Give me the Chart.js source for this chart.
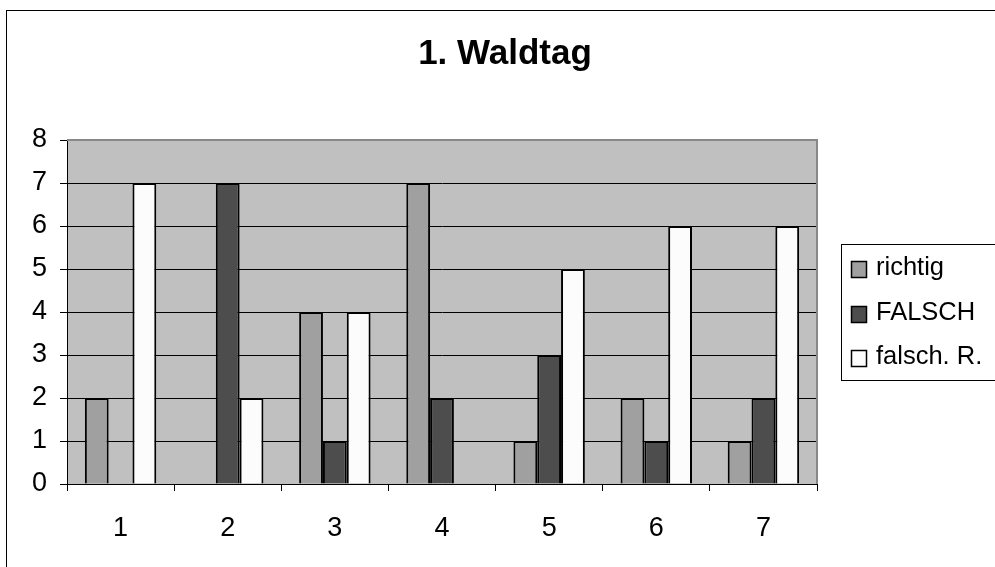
<!DOCTYPE html>
<html>
<head>
<meta charset="utf-8">
<script src="https://cdn.jsdelivr.net/npm/chart.js@4/dist/chart.umd.min.js"></script>
<style>
  html, body { margin: 0; padding: 0; background: #fff; }
  canvas { display: block; }
</style>
</head>
<body>
<canvas id="c" width="995" height="567"></canvas>
<script>
// Chart content
const chartTitle = '1. Waldtag';
const categories = ['1', '2', '3', '4', '5', '6', '7'];
const seriesNames = ['richtig', 'FALSCH', 'falsch. R.'];
const richtig = [2, 0, 4, 7, 1, 2, 1];
const falsch = [0, 7, 1, 2, 3, 1, 2];
const falschR = [7, 2, 4, 0, 5, 6, 6];
const yTicks = [0, 1, 2, 3, 4, 5, 6, 7, 8];

const seriesColors = ['#a0a0a0', '#4d4d4d', '#fcfcfc'];
const FONT = "'Liberation Sans', Arial, sans-serif";

// Page frame, plot background, title and boxed legend
const framePlugin = {
  id: 'frame',
  beforeDraw(chart) {
    const ctx = chart.ctx;
    const a = chart.chartArea;
    ctx.save();
    ctx.fillStyle = '#fff';
    ctx.fillRect(0, 0, chart.width, chart.height);
    ctx.strokeStyle = '#000';
    ctx.lineWidth = 1;
    ctx.strokeRect(6.5, 10.5, 1100, 1100);
    ctx.fillStyle = '#c0c0c0';
    ctx.fillRect(a.left, a.top, a.right - a.left, a.bottom - a.top);
    ctx.restore();
  },
  beforeDatasetsDraw(chart) {
    const ctx = chart.ctx;
    const a = chart.chartArea;
    ctx.save();
    ctx.strokeStyle = '#888';
    ctx.lineWidth = 2;
    ctx.beginPath();
    ctx.moveTo(a.left, a.top);
    ctx.lineTo(a.right, a.top);
    ctx.lineTo(a.right, a.bottom);
    ctx.stroke();
    ctx.restore();
  },
  afterDraw(chart) {
    const ctx = chart.ctx;
    ctx.save();
    // title
    ctx.fillStyle = '#000';
    ctx.font = 'bold 35px ' + FONT;
    ctx.textAlign = 'center';
    ctx.textBaseline = 'alphabetic';
    ctx.fillText(chartTitle, 505, 64);
    // legend box
    ctx.strokeStyle = '#000';
    ctx.lineWidth = 1;
    ctx.strokeRect(841.5, 244.5, 200, 136);
    ctx.font = '25.5px ' + FONT;
    ctx.textAlign = 'left';
    ctx.textBaseline = 'middle';
    chart.data.datasets.forEach((ds, i) => {
      const cy = 269 + i * 44.5;
      const top = Math.round(cy - 8);
      ctx.fillStyle = ds.backgroundColor;
      ctx.fillRect(851, top, 15, 16);
      ctx.strokeStyle = '#000';
      ctx.lineWidth = 1.5;
      ctx.strokeRect(851.5, top + 0.5, 15, 16);
      ctx.fillStyle = '#000';
      ctx.fillText(ds.label, 876, cy - 1);
    });
    ctx.restore();
  }
};

const seriesData = [richtig, falsch, falschR];

new Chart(document.getElementById('c'), {
  type: 'bar',
  data: {
    labels: categories,
    datasets: seriesNames.map((name, i) => ({
      label: name,
      data: seriesData[i],
      backgroundColor: seriesColors[i],
      borderColor: '#000',
      borderWidth: 2,
      borderSkipped: 'start',
      inflateAmount: 0,
      categoryPercentage: 3 / 4.5,
      barPercentage: 1
    }))
  },
  options: {
    responsive: false,
    devicePixelRatio: 1,
    animation: false,
    layout: { padding: { left: 0, top: 140, right: 178, bottom: 0 } },
    plugins: {
      legend: { display: false },
      title: { display: false },
      tooltip: { enabled: false }
    },
    scales: {
      x: {
        offset: true,
        grid: {
          offset: true,
          drawOnChartArea: false,
          drawTicks: true,
          tickLength: 7,
          tickColor: '#000',
          color: '#000'
        },
        border: { color: '#000', width: 1 },
        ticks: {
          color: '#000',
          font: { family: FONT, size: 27 },
          padding: 21,
          maxRotation: 0
        },
        afterFit(scale) { scale.height = 83; }
      },
      y: {
        min: yTicks[0],
        max: yTicks[yTicks.length - 1],
        afterBuildTicks(scale) { scale.ticks = yTicks.map(v => ({ value: v })); },
        grid: {
          color: (c) => (c.tick && c.tick.value === 8 ? 'rgba(0,0,0,0)' : '#000'),
          tickColor: '#000',
          tickLength: 7,
          lineWidth: 1
        },
        border: { color: '#000', width: 1 },
        ticks: {
          color: '#000',
          font: { family: FONT, size: 27 },
          padding: 13
        },
        afterFit(scale) { scale.width = 67; }
      }
    }
  },
  plugins: [framePlugin]
});
</script>
</body>
</html>
